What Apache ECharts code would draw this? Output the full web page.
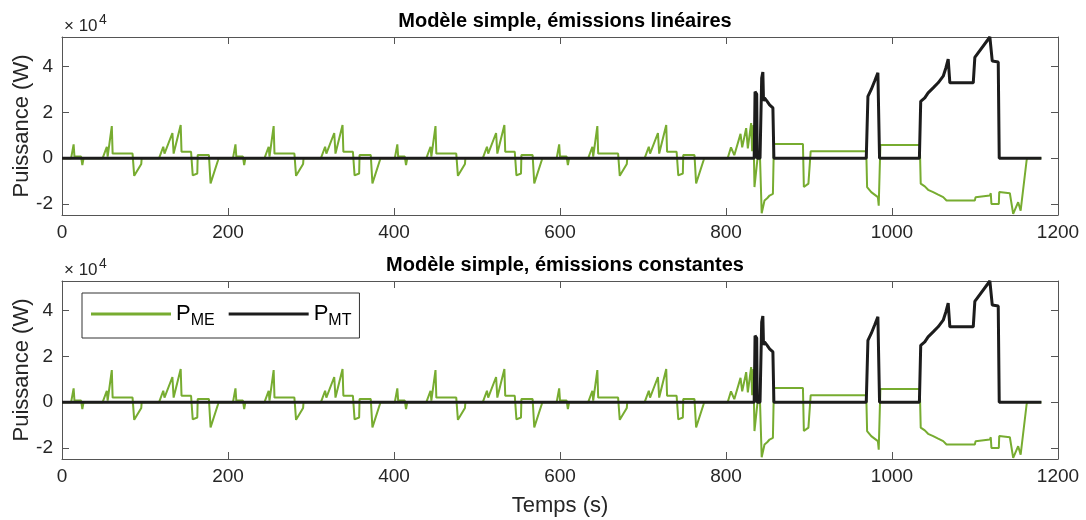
<!DOCTYPE html>
<html>
<head>
<meta charset="utf-8">
<script src="https://cdn.jsdelivr.net/npm/echarts@6/dist/echarts.min.js"></script>
<style>
html, body { margin: 0; padding: 0; background: #fff; }
#chart { width: 1086px; height: 520px; }
</style>
</head>
<body>
<div id="chart"></div>
<script>
// P_ME (moteur electrique), cycles urbains ECE-15 x4 : [temps s, puissance W]
var meCycle1 = [[0,0],[11,0],[14,6000],[15,700],[23,700],[24.5,-3000],[26,0],[49,0],[54,5000],[55,700],[60,14000],[61,2000],[85,2000],[87,-7700],[95.5,-2500],[96,0],[117,0],[122,5000],[123.5,2000],[133,11000],[134.5,2000],[143,14500],[144,2800],[155.5,2800],[157.5,-7500],[163,-6700],[163.5,1400],[177,1400],[179,-11000],[188,-900],[188.5,0]];
var meCycle2 = [[195,0],[206,0],[209,6000],[210,700],[218,700],[219.5,-3000],[221,0],[244,0],[249,5000],[250,700],[255,14000],[256,2000],[280,2000],[282,-7700],[290.5,-2500],[291,0],[312,0],[317,5000],[318.5,2000],[328,11000],[329.5,2000],[338,14500],[339,2800],[350.5,2800],[352.5,-7500],[358,-6700],[358.5,1400],[372,1400],[374,-11000],[383,-900],[383.5,0]];
var meCycle3 = [[390,0],[401,0],[404,6000],[405,700],[413,700],[414.5,-3000],[416,0],[439,0],[444,5000],[445,700],[450,14000],[451,2000],[475,2000],[477,-7700],[485.5,-2500],[486,0],[507,0],[512,5000],[513.5,2000],[523,11000],[524.5,2000],[533,14500],[534,2800],[545.5,2800],[547.5,-7500],[553,-6700],[553.5,1400],[567,1400],[569,-11000],[578,-900],[578.5,0]];
var meCycle4 = [[585,0],[596,0],[599,6000],[600,700],[608,700],[609.5,-3000],[611,0],[634,0],[639,5000],[640,700],[645,14000],[646,2000],[670,2000],[672,-7700],[680.5,-2500],[681,0],[702,0],[707,5000],[708.5,2000],[718,11000],[719.5,2000],[728,14500],[729,2800],[740.5,2800],[742.5,-7500],[748,-6700],[748.5,1400],[762,1400],[764,-11000],[773,-900],[773.5,0]];
// P_ME, cycle extra-urbain
var meEudc = [[780,0],[802,0],[806,4700],[810,1300],[817.5,10600],[819.5,4700],[824.3,13100],[826.3,4300],[830.3,15300],[831.5,3000],[833,14500],[834.3,-12600],[836,-12600],[838,0],[841,0],[843,-24000],[844.4,-23600],[846.4,-18500],[849.6,-17500],[852.5,-16300],[856.5,-15600],[857.7,6200],[892.7,6200],[893.8,-12600],[899.3,-11100],[902,3000],[969,3000],[970,-12600],[975,-14800],[983,-17000],[984,-20700],[986,5800],[1033.5,5800],[1034.6,-11100],[1039.5,-12300],[1043.5,-13800],[1049.6,-14800],[1055.6,-15900],[1061.7,-17000],[1065.7,-18500],[1099.8,-18500],[1100.7,-17000],[1117.9,-16300],[1119,-15300],[1119.8,-20000],[1128.7,-20000],[1129.2,-14800],[1142,-15300],[1146,-24300],[1152,-19200],[1155,-22900],[1162.2,-900],[1163,0],[1180,0]];
// P_MT (moteur thermique)
var mtPoints = [[0,0],[834,0],[835,29000],[837,28000],[837.6,0],[841,0],[843,35000],[844.4,37600],[845.2,25000],[846.4,26300],[849.6,24800],[852.5,23300],[856.5,22000],[857.7,0],[969,0],[971,27000],[975,30000],[979,33600],[983,37300],[985,0],[1033,0],[1034.6,24800],[1039.5,26300],[1043.5,28500],[1049.6,30700],[1055.6,32900],[1061.7,35800],[1065,39500],[1067.7,43200],[1069.7,32900],[1097.9,32900],[1099.8,44000],[1117.9,52900],[1120.8,42400],[1128,42000],[1129.2,0],[1180,0]];

var titles = ['Modèle simple, émissions linéaires', 'Modèle simple, émissions constantes'];
var yTicks = [-20000, 0, 20000, 40000];

var YMIN = -24800, YMAX = 52900;
var FONT = 'Liberation Sans, Arial, Helvetica, sans-serif';
var TXT = '#262626';
var AX = '#555555';
var GREEN = '#77AC30', BLACK = '#1c1c1c';
var gridTops = [37, 281];
var gridH = 178;

var meData = meCycle1.concat(meCycle2, meCycle3, meCycle4, meEudc);

var chart = echarts.init(document.getElementById('chart'));

var grids = [], xAxes = [], yAxes = [], series = [], titleList = [], graphics = [];
for (var i = 0; i < 2; i++) {
    grids.push({ left: 62, right: 28, top: gridTops[i], height: gridH, containLabel: false, outerBoundsMode: 'none' });
    var lineSt = { color: AX, width: 1 };
    // axe x bas + miroir haut
    xAxes.push({
        type: 'value', gridIndex: i, min: 0, max: 1200, interval: 200, position: 'bottom',
        axisLine: { show: true, onZero: false, lineStyle: lineSt },
        axisTick: { show: true, inside: true, length: 7, lineStyle: lineSt },
        axisLabel: { fontSize: 19, color: TXT, margin: 8, fontFamily: FONT,
            formatter: function (v) { return String(v); } },
        splitLine: { show: false },
        name: i == 1 ? 'Temps (s)' : '',
        nameLocation: 'middle', nameGap: 36, nameMoveOverlap: false,
        nameTextStyle: { fontSize: 22, color: TXT, fontFamily: FONT }
    });
    xAxes.push({
        type: 'value', gridIndex: i, min: 0, max: 1200, interval: 200, position: 'top',
        axisLine: { show: true, onZero: false, lineStyle: lineSt },
        axisTick: { show: true, inside: true, length: 7, lineStyle: lineSt },
        axisLabel: { show: false }, splitLine: { show: false }
    });
    // axe y gauche + miroir droite
    yAxes.push({
        type: 'value', gridIndex: i, min: YMIN, max: YMAX, position: 'left',
        axisLine: { show: true, onZero: false, lineStyle: lineSt },
        axisTick: { show: true, inside: true, length: 7, lineStyle: lineSt, customValues: yTicks },
        axisLabel: { fontSize: 19, color: TXT, margin: 9, fontFamily: FONT, customValues: yTicks,
            formatter: function (v) { return String(Math.round(v / 10000)); } },
        splitLine: { show: false },
        name: 'Puissance (W)', nameLocation: 'middle', nameGap: 29, nameMoveOverlap: false,
        nameTextStyle: { fontSize: 22, color: TXT, fontFamily: FONT }
    });
    yAxes.push({
        type: 'value', gridIndex: i, min: YMIN, max: YMAX, position: 'right',
        axisLine: { show: true, onZero: false, lineStyle: lineSt },
        axisTick: { show: true, inside: true, length: 7, lineStyle: lineSt, customValues: yTicks },
        axisLabel: { show: false }, splitLine: { show: false }
    });
    series.push({
        name: 'PME', type: 'line', xAxisIndex: 2 * i, yAxisIndex: 2 * i,
        data: meData, symbol: 'none', showSymbol: false, animation: false,
        lineStyle: { color: GREEN, width: 2 }, itemStyle: { color: GREEN }
    });
    series.push({
        name: 'PMT', type: 'line', xAxisIndex: 2 * i, yAxisIndex: 2 * i,
        data: mtPoints, symbol: 'none', showSymbol: false, animation: false,
        lineStyle: { color: BLACK, width: 3 }, itemStyle: { color: BLACK }
    });
    titleList.push({
        text: titles[i], left: 560, top: gridTops[i] - 31, textAlign: 'center',
        textStyle: { fontSize: 20, fontWeight: 'bold', color: '#000', fontFamily: FONT }
    });
    graphics.push({ type: 'text', left: 64, top: gridTops[i] - 19,
        style: { text: '× 10', fontSize: 17, fill: TXT, fontFamily: FONT } });
    graphics.push({ type: 'text', left: 99, top: gridTops[i] - 24,
        style: { text: '4', fontSize: 14, fill: TXT, fontFamily: FONT } });
}

var option = {
    animation: false,
    backgroundColor: '#fff',
    title: titleList,
    grid: grids,
    xAxis: xAxes,
    yAxis: yAxes,
    series: series,
    graphic: graphics,
    legend: {
        data: [{ name: 'PME', icon: 'rect' }, { name: 'PMT', icon: 'rect' }],
        left: 82, top: 293,
        itemWidth: 80, itemHeight: 3, itemGap: 14,
        padding: [10, 8, 9, 9],
        borderColor: '#333', borderWidth: 1,
        backgroundColor: '#fff',
        formatter: function (name) {
            return name == 'PME' ? 'P{s|ME}' : 'P{s|MT}';
        },
        textStyle: {
            fontSize: 22, color: '#000', fontFamily: FONT,
            rich: { s: { fontSize: 16, color: '#000', fontFamily: FONT, padding: [14, 0, 0, 0] } }
        }
    }
};
chart.setOption(option);
</script>
</body>
</html>
